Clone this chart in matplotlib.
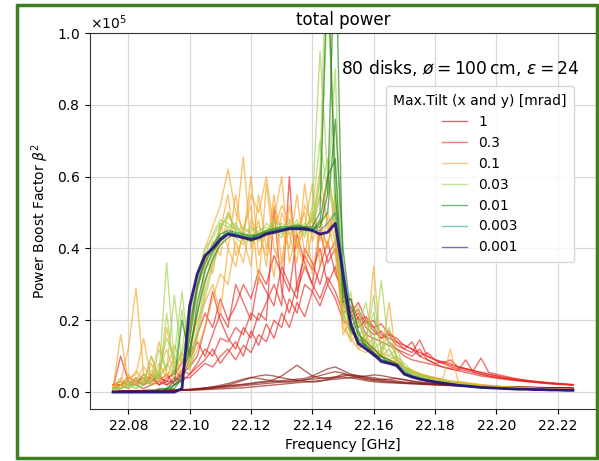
import matplotlib
matplotlib.use("Agg")
import matplotlib.pyplot as plt
from matplotlib.patches import Rectangle

# frequency grid [GHz]
freq = [22.0750, 22.0775, 22.0800, 22.0825, 22.0850, 22.0875, 22.0900, 22.0925, 22.0950, 22.0975,
        22.1000, 22.1025, 22.1050, 22.1075, 22.1100, 22.1125, 22.1150, 22.1175, 22.1200, 22.1225,
        22.1250, 22.1275, 22.1300, 22.1325, 22.1350, 22.1375, 22.1400, 22.1425, 22.1450, 22.1475,
        22.1500, 22.1525, 22.1550, 22.1575, 22.1600, 22.1625, 22.1650, 22.1675, 22.1700, 22.1725,
        22.1750, 22.1775, 22.1800, 22.1825, 22.1850, 22.1875, 22.1900, 22.1925, 22.1950, 22.1975,
        22.2000, 22.2025, 22.2050, 22.2075, 22.2100, 22.2125, 22.2150, 22.2175, 22.2200, 22.2225,
        22.2250]

# boost factor beta^2 in units of 1e5, a few realisations per max. tilt
tilt_1 = [
    [0.003,0.003,0.004,0.004,0.005,0.005,0.005,0.006,0.006,0.007, 0.008,0.010,0.012,0.014,0.016,0.018,0.020,0.022,0.025,0.028,
     0.030,0.035,0.045,0.060,0.075,0.060,0.045,0.040,0.038,0.042, 0.050,0.045,0.040,0.035,0.032,0.030,0.028,0.027,0.025,0.024,
     0.023,0.022,0.021,0.020,0.019,0.018,0.017,0.016,0.016,0.015, 0.015,0.014,0.014,0.013,0.013,0.012,0.012,0.012,0.011,0.011, 0.011],
    [0.002,0.003,0.003,0.004,0.004,0.005,0.005,0.005,0.006,0.006, 0.007,0.009,0.011,0.013,0.015,0.017,0.019,0.021,0.023,0.026,
     0.028,0.030,0.032,0.034,0.036,0.038,0.045,0.055,0.065,0.070, 0.060,0.050,0.045,0.040,0.036,0.033,0.030,0.028,0.026,0.025,
     0.024,0.023,0.022,0.021,0.020,0.019,0.018,0.017,0.016,0.016, 0.015,0.015,0.014,0.014,0.013,0.013,0.012,0.012,0.012,0.011, 0.011],
    [0.002,0.002,0.003,0.003,0.003,0.004,0.004,0.004,0.005,0.005, 0.006,0.007,0.008,0.010,0.012,0.014,0.016,0.018,0.020,0.022,
     0.024,0.026,0.028,0.030,0.032,0.034,0.036,0.038,0.040,0.042, 0.045,0.048,0.046,0.043,0.040,0.037,0.034,0.031,0.028,0.026,
     0.024,0.022,0.021,0.020,0.019,0.018,0.017,0.016,0.015,0.015, 0.014,0.014,0.013,0.013,0.012,0.012,0.012,0.011,0.011,0.011, 0.010],
    [0.003,0.003,0.003,0.004,0.004,0.004,0.005,0.005,0.005,0.006, 0.007,0.008,0.010,0.012,0.015,0.020,0.026,0.033,0.040,0.045,
     0.048,0.045,0.040,0.036,0.033,0.030,0.028,0.030,0.035,0.040, 0.042,0.040,0.036,0.032,0.029,0.027,0.026,0.025,0.024,0.023,
     0.022,0.021,0.020,0.019,0.018,0.017,0.017,0.016,0.015,0.015, 0.014,0.014,0.013,0.013,0.012,0.012,0.012,0.011,0.011,0.011, 0.010],
    [0.002,0.002,0.003,0.003,0.003,0.004,0.004,0.004,0.004,0.005, 0.005,0.006,0.007,0.008,0.009,0.010,0.011,0.012,0.014,0.016,
     0.018,0.020,0.022,0.024,0.026,0.028,0.030,0.032,0.034,0.036, 0.038,0.040,0.042,0.045,0.048,0.046,0.042,0.038,0.034,0.030,
     0.027,0.025,0.023,0.021,0.020,0.019,0.018,0.017,0.016,0.016, 0.015,0.015,0.014,0.014,0.013,0.013,0.012,0.012,0.012,0.011, 0.011],
    [0.002,0.002,0.002,0.003,0.003,0.003,0.004,0.004,0.004,0.005, 0.006,0.008,0.011,0.015,0.019,0.024,0.030,0.036,0.041,0.038,
     0.034,0.031,0.029,0.028,0.030,0.034,0.040,0.046,0.052,0.057, 0.053,0.047,0.042,0.038,0.035,0.034,0.036,0.038,0.035,0.031,
     0.028,0.026,0.024,0.022,0.021,0.020,0.019,0.018,0.017,0.016, 0.016,0.015,0.015,0.014,0.014,0.013,0.013,0.012,0.012,0.012, 0.011],
]

tilt_03 = [
    [0.01,0.10,0.03,0.02,0.01,0.02,0.03,0.02,0.04,0.03, 0.05,0.08,0.12,0.10,0.15,0.14,0.18,0.16,0.22,0.20,
     0.25,0.30,0.24,0.60,0.28,0.35,0.30,0.26,0.32,0.28, 0.22,0.24,0.18,0.20,0.17,0.15,0.16,0.13,0.12,0.14,
     0.10,0.09,0.08,0.085,0.07,0.065,0.06,0.055,0.05,0.045, 0.04,0.038,0.035,0.032,0.03,0.028,0.026,0.025,0.023,0.022, 0.02],
    [0.02,0.02,0.04,0.03,0.02,0.05,0.02,0.03,0.03,0.05, 0.07,0.10,0.18,0.28,0.20,0.15,0.12,0.18,0.15,0.22,
     0.20,0.51,0.28,0.22,0.30,0.38,0.34,0.40,0.30,0.35, 0.25,0.20,0.22,0.18,0.16,0.17,0.14,0.12,0.11,0.10,
     0.12,0.09,0.08,0.07,0.065,0.06,0.09,0.055,0.05,0.045, 0.042,0.038,0.035,0.033,0.03,0.028,0.026,0.024,0.022,0.021, 0.02],
    [0.01,0.02,0.01,0.03,0.04,0.02,0.03,0.05,0.02,0.04, 0.04,0.06,0.08,0.07,0.10,0.12,0.09,0.13,0.11,0.16,
     0.14,0.20,0.18,0.26,0.22,0.30,0.28,0.35,0.42,0.33, 0.28,0.21,0.23,0.19,0.20,0.16,0.15,0.14,0.12,0.11,
     0.145,0.10,0.09,0.08,0.09,0.07,0.065,0.06,0.055,0.05, 0.045,0.04,0.037,0.034,0.031,0.029,0.027,0.025,0.023,0.022, 0.02],
    [0.02,0.03,0.02,0.02,0.05,0.03,0.04,0.03,0.06,0.04, 0.09,0.14,0.10,0.16,0.22,0.18,0.30,0.25,0.20,0.32,
     0.28,0.24,0.35,0.30,0.26,0.40,0.36,0.30,0.38,0.42, 0.24,0.26,0.20,0.21,0.18,0.15,0.17,0.14,0.13,0.12,
     0.11,0.10,0.09,0.085,0.08,0.07,0.065,0.06,0.095,0.055, 0.05,0.045,0.04,0.036,0.033,0.03,0.028,0.026,0.024,0.022, 0.021],
    [0.01,0.01,0.02,0.04,0.02,0.03,0.05,0.02,0.03,0.06, 0.05,0.07,0.09,0.12,0.08,0.11,0.14,0.10,0.17,0.13,
     0.19,0.15,0.22,0.18,0.25,0.21,0.28,0.24,0.30,0.26, 0.20,0.18,0.21,0.16,0.15,0.14,0.13,0.12,0.10,0.09,
     0.085,0.08,0.075,0.07,0.065,0.06,0.055,0.05,0.045,0.042, 0.039,0.036,0.033,0.031,0.029,0.027,0.025,0.023,0.022,0.021, 0.02],
    [0.02,0.02,0.03,0.02,0.03,0.04,0.02,0.04,0.05,0.08, 0.10,0.16,0.22,0.18,0.26,0.20,0.24,0.30,0.26,0.34,
     0.30,0.38,0.33,0.28,0.44,0.36,0.30,0.45,0.36,0.40, 0.27,0.22,0.25,0.20,0.18,0.19,0.16,0.15,0.13,0.12,
     0.10,0.11,0.09,0.08,0.075,0.07,0.065,0.06,0.055,0.05, 0.046,0.042,0.038,0.035,0.032,0.03,0.028,0.026,0.024,0.022, 0.021],
]

tilt_01 = [
    [0.01,0.16,0.03,0.02,0.04,0.02,0.03,0.05,0.04,0.06, 0.10,0.22,0.35,0.42,0.38,0.50,0.45,0.655,0.40,0.48,
     0.35,0.52,0.45,0.40,0.55,0.38,0.50,0.42,0.60,0.45, 0.18,0.15,0.12,0.14,0.11,0.10,0.25,0.09,0.07,0.06,
     0.05,0.045,0.04,0.035,0.12,0.03,0.027,0.024,0.021,0.019, 0.017,0.015,0.014,0.013,0.012,0.011,0.010,0.009,0.009,0.008, 0.008],
    [0.02,0.03,0.12,0.29,0.05,0.03,0.08,0.04,0.10,0.05, 0.08,0.16,0.28,0.36,0.47,0.40,0.55,0.42,0.60,0.38,
     0.45,0.32,0.50,0.44,0.36,0.58,0.42,0.48,0.40,0.52, 0.22,0.16,0.20,0.13,0.12,0.11,0.09,0.08,0.07,0.06,
     0.05,0.044,0.038,0.034,0.03,0.027,0.024,0.021,0.019,0.017, 0.015,0.014,0.013,0.012,0.011,0.010,0.009,0.009,0.008,0.008, 0.007],
    [0.01,0.02,0.04,0.05,0.15,0.03,0.06,0.12,0.05,0.09, 0.12,0.20,0.25,0.30,0.22,0.40,0.35,0.45,0.52,0.30,
     0.58,0.40,0.35,0.47,0.42,0.34,0.45,0.55,0.48,0.38, 0.20,0.14,0.17,0.12,0.35,0.10,0.09,0.10,0.07,0.055,
     0.048,0.042,0.037,0.033,0.029,0.026,0.023,0.021,0.019,0.017, 0.015,0.014,0.013,0.012,0.011,0.010,0.009,0.008,0.008,0.007, 0.007],
    [0.00,0.02,0.02,0.06,0.03,0.10,0.04,0.07,0.13,0.08, 0.14,0.28,0.38,0.33,0.45,0.55,0.38,0.43,0.35,0.55,
     0.40,0.48,0.60,0.36,0.45,0.50,0.33,0.46,0.40,0.55, 0.25,0.18,0.13,0.15,0.11,0.10,0.12,0.08,0.07,0.06,
     0.05,0.045,0.04,0.035,0.031,0.028,0.025,0.022,0.02,0.018, 0.016,0.015,0.013,0.012,0.011,0.010,0.010,0.009,0.008,0.008, 0.007],
    [0.01,0.04,0.02,0.03,0.07,0.04,0.14,0.05,0.06,0.11, 0.07,0.12,0.18,0.26,0.33,0.30,0.42,0.36,0.48,0.44,
     0.38,0.55,0.36,0.52,0.40,0.46,0.58,0.35,0.50,0.42, 0.16,0.20,0.12,0.11,0.13,0.09,0.08,0.09,0.065,0.055,
     0.047,0.041,0.036,0.032,0.028,0.025,0.022,0.02,0.018,0.016, 0.014,0.013,0.012,0.011,0.010,0.010,0.009,0.008,0.008,0.007, 0.007],
    [0.02,0.01,0.05,0.02,0.03,0.08,0.03,0.18,0.07,0.05, 0.18,0.30,0.40,0.46,0.52,0.62,0.50,0.45,0.55,0.50,
     0.60,0.45,0.52,0.48,0.40,0.52,0.47,0.62,0.45,0.50, 0.22,0.17,0.14,0.16,0.12,0.10,0.09,0.08,0.07,0.06,
     0.052,0.045,0.04,0.035,0.031,0.028,0.025,0.022,0.02,0.018, 0.016,0.014,0.013,0.012,0.011,0.010,0.009,0.009,0.008,0.008, 0.007],
]

tilt_003 = [
    [0.01,0.01,0.02,0.01,0.03,0.02,0.05,0.36,0.08,0.10, 0.20,0.30,0.38,0.44,0.48,0.47,0.45,0.44,0.43,0.45,
     0.46,0.44,0.47,0.46,0.45,0.47,0.44,0.60,1.40,0.40, 0.25,0.18,0.15,0.20,0.13,0.31,0.12,0.09,0.07,0.05,
     0.045,0.04,0.035,0.03,0.027,0.024,0.021,0.018,0.016,0.014, 0.013,0.012,0.011,0.010,0.009,0.008,0.008,0.007,0.007,0.006, 0.006],
    [0.00,0.02,0.01,0.03,0.05,0.02,0.12,0.06,0.27,0.08, 0.12,0.22,0.33,0.40,0.46,0.49,0.46,0.44,0.46,0.44,
     0.47,0.45,0.43,0.48,0.46,0.44,0.50,0.70,0.55,0.90, 0.20,0.28,0.14,0.16,0.22,0.12,0.14,0.10,0.08,0.06,
     0.05,0.043,0.036,0.032,0.028,0.025,0.022,0.019,0.017,0.015, 0.013,0.012,0.011,0.010,0.009,0.008,0.008,0.007,0.007,0.006, 0.006],
    [0.01,0.03,0.02,0.01,0.02,0.10,0.04,0.08,0.05,0.23, 0.06,0.15,0.26,0.35,0.42,0.46,0.47,0.43,0.45,0.46,
     0.44,0.46,0.45,0.44,0.47,0.45,0.46,0.55,0.65,0.45, 0.30,0.20,0.24,0.13,0.15,0.10,0.18,0.09,0.07,0.055,
     0.045,0.04,0.034,0.03,0.027,0.023,0.021,0.018,0.016,0.014, 0.013,0.012,0.011,0.010,0.009,0.008,0.008,0.007,0.006,0.006, 0.005],
    [0.00,0.01,0.03,0.02,0.04,0.03,0.06,0.15,0.10,0.28, 0.08,0.18,0.30,0.38,0.45,0.50,0.45,0.46,0.44,0.42,
     0.45,0.47,0.44,0.45,0.48,0.43,0.52,0.95,0.60,0.50, 0.22,0.17,0.19,0.25,0.12,0.14,0.10,0.09,0.065,0.05,
     0.042,0.037,0.032,0.028,0.025,0.022,0.02,0.017,0.015,0.013, 0.012,0.011,0.010,0.009,0.008,0.008,0.007,0.007,0.006,0.006, 0.005],
    [0.01,0.01,0.02,0.04,0.02,0.06,0.03,0.22,0.05,0.12, 0.25,0.33,0.40,0.43,0.47,0.46,0.43,0.41,0.44,0.43,
     0.44,0.48,0.46,0.47,0.44,0.46,0.48,0.58,1.10,0.62, 0.28,0.15,0.20,0.14,0.27,0.11,0.10,0.12,0.07,0.05,
     0.044,0.038,0.033,0.029,0.026,0.023,0.02,0.018,0.016,0.014, 0.012,0.011,0.010,0.009,0.009,0.008,0.007,0.007,0.006,0.006, 0.005],
]

tilt_001 = [
    [0,0,0,0,0,0,0,0.01,0.02,0.05, 0.15,0.29,0.36,0.40,0.43,0.445,0.44,0.43,0.43,0.435,
     0.445,0.45,0.455,0.46,0.46,0.46,0.455,0.46,0.55,1.30, 0.30,0.17,0.15,0.13,0.11,0.09,0.085,0.075,0.055,0.045,
     0.038,0.033,0.029,0.026,0.023,0.020,0.018,0.016,0.014,0.012, 0.011,0.010,0.009,0.009,0.008,0.007,0.007,0.006,0.006,0.005, 0.005],
    [0,0,0,0,0,0,0.01,0.01,0.03,0.20, 0.10,0.25,0.34,0.39,0.42,0.44,0.44,0.435,0.43,0.44,
     0.445,0.45,0.455,0.455,0.46,0.455,0.45,0.47,0.50,0.76, 0.40,0.22,0.16,0.14,0.12,0.10,0.09,0.08,0.06,0.046,
     0.04,0.034,0.03,0.026,0.023,0.02,0.018,0.016,0.014,0.013, 0.012,0.011,0.01,0.009,0.008,0.008,0.007,0.007,0.006,0.006, 0.005],
    [0,0,0,0,0,0,0,0.01,0.01,0.04, 0.12,0.22,0.31,0.37,0.41,0.43,0.44,0.43,0.42,0.43,
     0.44,0.445,0.45,0.455,0.455,0.45,0.45,0.48,0.60,0.65, 0.25,0.26,0.17,0.12,0.10,0.10,0.08,0.07,0.05,0.044,
     0.037,0.032,0.028,0.025,0.022,0.019,0.017,0.015,0.013,0.012, 0.011,0.010,0.009,0.008,0.008,0.007,0.007,0.006,0.006,0.005, 0.005],
    [0,0,0,0,0,0,0,0,0.02,0.03, 0.18,0.30,0.37,0.41,0.44,0.45,0.445,0.44,0.435,0.44,
     0.45,0.455,0.46,0.46,0.465,0.46,0.46,0.50,1.20,0.55, 0.30,0.18,0.14,0.13,0.11,0.09,0.085,0.075,0.05,0.042,
     0.036,0.032,0.028,0.025,0.022,0.019,0.017,0.015,0.013,0.012, 0.011,0.010,0.009,0.008,0.008,0.007,0.007,0.006,0.006,0.005, 0.005],
]

tilt_0003 = [
    [0,0,0,0,0,0,0,0,0,0.01, 0.22,0.32,0.38,0.405,0.43,0.445,0.44,0.43,0.43,0.435,
     0.44,0.45,0.455,0.46,0.46,0.455,0.455,0.45,0.47,0.50, 0.36,0.20,0.14,0.125,0.105,0.09,0.08,0.075,0.052,0.043,
     0.037,0.032,0.028,0.025,0.022,0.019,0.017,0.015,0.013,0.012, 0.011,0.010,0.009,0.008,0.008,0.007,0.007,0.006,0.006,0.005, 0.005],
]

tilt_0001 = [
    [0,0,0,0,0,0,0,0,0,0.01, 0.24,0.33,0.38,0.40,0.425,0.44,0.435,0.43,0.425,0.43,
     0.44,0.445,0.45,0.455,0.455,0.455,0.45,0.44,0.445,0.47, 0.33,0.19,0.135,0.12,0.105,0.085,0.08,0.075,0.05,0.042,
     0.036,0.032,0.028,0.025,0.022,0.019,0.017,0.015,0.013,0.012, 0.011,0.010,0.009,0.008,0.008,0.007,0.007,0.006,0.006,0.005, 0.005],
]

tilt_labels = ["1", "0.3", "0.1", "0.03", "0.01", "0.003", "0.001"]
tilt_data = [tilt_1, tilt_03, tilt_01, tilt_003, tilt_001, tilt_0003, tilt_0001]
tilt_colors = ["#8c1c13", "#e8251f", "#f7a52a", "#9fd04e", "#1d7f1d", "#2a9d9d", "#2b0c7a"]

fig = plt.figure(figsize=(5.99, 4.61), dpi=100)
ax = fig.add_axes([90/599, 52/461, 506/599, 376/461])

for label, runs, col in zip(tilt_labels, tilt_data, tilt_colors):
    for k, run in enumerate(runs):
        # the 0.001 curve sits on top of the others and looks solid
        if label == "0.001":
            lw, a = 2.0, 0.9
        else:
            lw, a = 1.0, 0.65
        ax.plot(freq, [v*1e5 for v in run], color=col, lw=lw, alpha=a)
    # legend proxy, thin line
    ax.plot([], [], color=col, lw=1.0, alpha=0.6, label=label)

ax.set_ylim(-0.047e5, 1.0e5)
ax.set_xlim(22.0675, 22.2325)
ax.set_xticks([22.08, 22.10, 22.12, 22.14, 22.16, 22.18, 22.20, 22.22])
ax.ticklabel_format(style="sci", axis="y", scilimits=(0, 0), useMathText=True)
ax.grid(True, color="#d9d9d9", lw=0.9)
ax.set_axisbelow(True)
for s in ax.spines.values():
    s.set_color("#333333")

ax.set_xlabel("Frequency [GHz]", fontsize=10)
ax.set_ylabel(r"Power Boost Factor $\beta^2$", fontsize=10)
ax.set_title("total power", fontsize=12)
ax.text(0.732, 0.908, r"80 disks, $ø = 100\,\mathrm{cm}$, $\varepsilon = 24$",
        transform=ax.transAxes, ha="center", va="center", fontsize=12.3)

leg = ax.legend(title="Max.Tilt (x and y) [mrad]", loc="upper right",
                bbox_to_anchor=(0.971, 0.877), fontsize=10, title_fontsize=10,
                handlelength=1.8, borderpad=0.55, labelspacing=0.5)
leg.get_frame().set_edgecolor("#cccccc")

# green frame around the figure
fig.patches.append(Rectangle((17/599, 3/461), 580/599, 453/461, transform=fig.transFigure,
                             fill=False, edgecolor="#3f7f22", lw=2.5, zorder=10))

fig.savefig("out.png", dpi=100)
